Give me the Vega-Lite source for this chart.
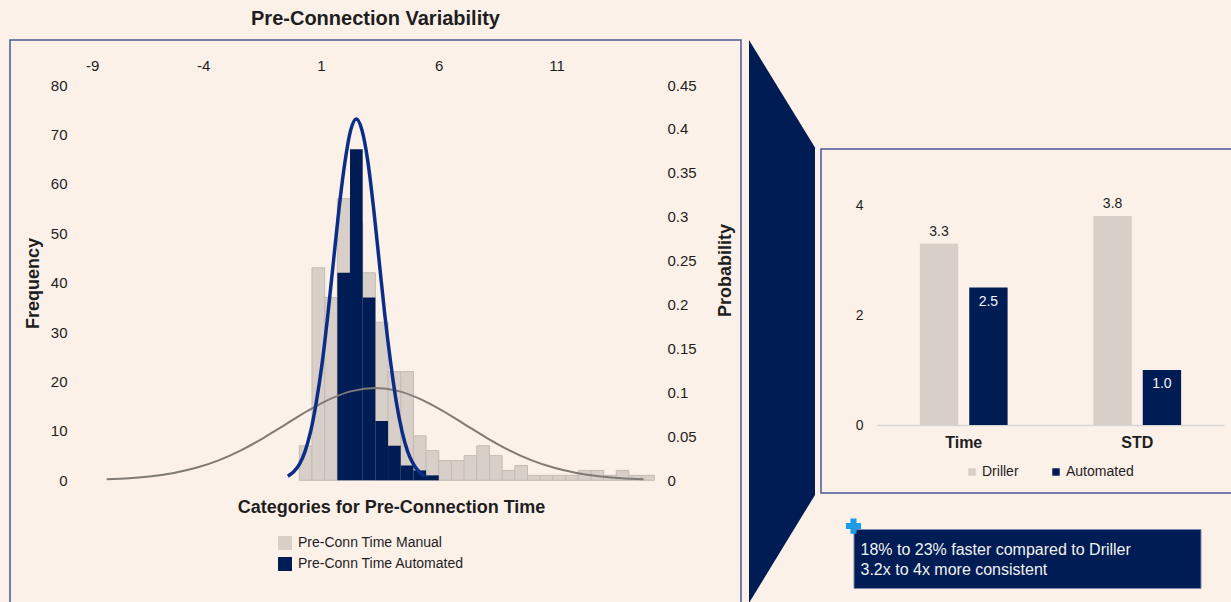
{
  "$schema": "https://vega.github.io/schema/vega-lite/v6.json",
  "background": "#fcf1e9",
  "padding": {"left": 9, "top": 8, "right": 0, "bottom": 0},
  "config": {
    "font": "Liberation Sans",
    "view": {"stroke": null},
    "axis": {"labelColor": "#1e1e1e", "titleColor": "#1e1e1e", "grid": false, "ticks": false, "tickSize": 0, "domain": false},
    "legend": {"labelColor": "#1e1e1e", "labelLimit": 0},
    "title": {"color": "#1e1e1e"}
  },
  "datasets": {
    "hist": [
      {"bin": 0, "series": "Pre-Conn Time Manual", "count": 7},
      {"bin": 0.5, "series": "Pre-Conn Time Manual", "count": 43},
      {"bin": 1, "series": "Pre-Conn Time Manual", "count": 37},
      {"bin": 1.5, "series": "Pre-Conn Time Manual", "count": 57},
      {"bin": 2, "series": "Pre-Conn Time Manual", "count": 52},
      {"bin": 2.5, "series": "Pre-Conn Time Manual", "count": 42},
      {"bin": 3, "series": "Pre-Conn Time Manual", "count": 32},
      {"bin": 3.5, "series": "Pre-Conn Time Manual", "count": 22},
      {"bin": 4, "series": "Pre-Conn Time Manual", "count": 22},
      {"bin": 4.5, "series": "Pre-Conn Time Manual", "count": 9},
      {"bin": 5, "series": "Pre-Conn Time Manual", "count": 6},
      {"bin": 5.5, "series": "Pre-Conn Time Manual", "count": 4},
      {"bin": 6, "series": "Pre-Conn Time Manual", "count": 4},
      {"bin": 6.5, "series": "Pre-Conn Time Manual", "count": 5},
      {"bin": 7, "series": "Pre-Conn Time Manual", "count": 7},
      {"bin": 7.5, "series": "Pre-Conn Time Manual", "count": 5},
      {"bin": 8, "series": "Pre-Conn Time Manual", "count": 2},
      {"bin": 8.5, "series": "Pre-Conn Time Manual", "count": 3},
      {"bin": 9, "series": "Pre-Conn Time Manual", "count": 1},
      {"bin": 9.5, "series": "Pre-Conn Time Manual", "count": 1},
      {"bin": 10, "series": "Pre-Conn Time Manual", "count": 1},
      {"bin": 10.5, "series": "Pre-Conn Time Manual", "count": 1},
      {"bin": 11, "series": "Pre-Conn Time Manual", "count": 2},
      {"bin": 11.5, "series": "Pre-Conn Time Manual", "count": 2},
      {"bin": 12, "series": "Pre-Conn Time Manual", "count": 1},
      {"bin": 12.5, "series": "Pre-Conn Time Manual", "count": 2},
      {"bin": 13, "series": "Pre-Conn Time Manual", "count": 1},
      {"bin": 13.5, "series": "Pre-Conn Time Manual", "count": 1},
      {"bin": 1.5, "series": "Pre-Conn Time Automated", "count": 42},
      {"bin": 2, "series": "Pre-Conn Time Automated", "count": 67},
      {"bin": 2.5, "series": "Pre-Conn Time Automated", "count": 37},
      {"bin": 3, "series": "Pre-Conn Time Automated", "count": 12},
      {"bin": 3.5, "series": "Pre-Conn Time Automated", "count": 7},
      {"bin": 4, "series": "Pre-Conn Time Automated", "count": 3},
      {"bin": 4.5, "series": "Pre-Conn Time Automated", "count": 2},
      {"bin": 5, "series": "Pre-Conn Time Automated", "count": 1}
    ],
    "curves": [
      {"series": "Manual fit", "t": -8.1, "p": 0.0012},
      {"series": "Manual fit", "t": -7.15, "p": 0.0024},
      {"series": "Manual fit", "t": -6.2, "p": 0.0046},
      {"series": "Manual fit", "t": -5.25, "p": 0.0084},
      {"series": "Manual fit", "t": -4.3, "p": 0.0142},
      {"series": "Manual fit", "t": -3.35, "p": 0.0227},
      {"series": "Manual fit", "t": -2.4, "p": 0.0341},
      {"series": "Manual fit", "t": -1.45, "p": 0.0481},
      {"series": "Manual fit", "t": -0.5, "p": 0.0637},
      {"series": "Manual fit", "t": 0.45, "p": 0.0793},
      {"series": "Manual fit", "t": 1.4, "p": 0.0927},
      {"series": "Manual fit", "t": 2.35, "p": 0.1018},
      {"series": "Manual fit", "t": 3.3, "p": 0.105},
      {"series": "Manual fit", "t": 4.25, "p": 0.1018},
      {"series": "Manual fit", "t": 5.2, "p": 0.0927},
      {"series": "Manual fit", "t": 6.15, "p": 0.0793},
      {"series": "Manual fit", "t": 7.1, "p": 0.0637},
      {"series": "Manual fit", "t": 8.05, "p": 0.0481},
      {"series": "Manual fit", "t": 9.0, "p": 0.0341},
      {"series": "Manual fit", "t": 9.95, "p": 0.0227},
      {"series": "Manual fit", "t": 10.9, "p": 0.0142},
      {"series": "Manual fit", "t": 11.85, "p": 0.0084},
      {"series": "Manual fit", "t": 12.8, "p": 0.0046},
      {"series": "Manual fit", "t": 13.75, "p": 0.0024},
      {"series": "Manual fit", "t": 14.7, "p": 0.0012},
      {"series": "Automated fit", "t": -0.41, "p": 0.0046},
      {"series": "Automated fit", "t": -0.17, "p": 0.0094},
      {"series": "Automated fit", "t": 0.08, "p": 0.0181},
      {"series": "Automated fit", "t": 0.32, "p": 0.0327},
      {"series": "Automated fit", "t": 0.56, "p": 0.0557},
      {"series": "Automated fit", "t": 0.8, "p": 0.0889},
      {"series": "Automated fit", "t": 1.05, "p": 0.1335},
      {"series": "Automated fit", "t": 1.29, "p": 0.1883},
      {"series": "Automated fit", "t": 1.53, "p": 0.2495},
      {"series": "Automated fit", "t": 1.77, "p": 0.3104},
      {"series": "Automated fit", "t": 2.02, "p": 0.363},
      {"series": "Automated fit", "t": 2.26, "p": 0.3986},
      {"series": "Automated fit", "t": 2.5, "p": 0.4113},
      {"series": "Automated fit", "t": 2.74, "p": 0.3986},
      {"series": "Automated fit", "t": 2.99, "p": 0.363},
      {"series": "Automated fit", "t": 3.23, "p": 0.3104},
      {"series": "Automated fit", "t": 3.47, "p": 0.2495},
      {"series": "Automated fit", "t": 3.71, "p": 0.1883},
      {"series": "Automated fit", "t": 3.96, "p": 0.1335},
      {"series": "Automated fit", "t": 4.2, "p": 0.0889},
      {"series": "Automated fit", "t": 4.44, "p": 0.0557},
      {"series": "Automated fit", "t": 4.68, "p": 0.0327},
      {"series": "Automated fit", "t": 4.93, "p": 0.0181},
      {"series": "Automated fit", "t": 5.17, "p": 0.0094},
      {"series": "Automated fit", "t": 5.41, "p": 0.0046}
    ],
    "summary": [
      {"metric": "Time", "source": "Driller", "value": 3.3},
      {"metric": "Time", "source": "Automated", "value": 2.5},
      {"metric": "STD", "source": "Driller", "value": 3.8},
      {"metric": "STD", "source": "Automated", "value": 1.0}
    ],
    "notes": [
      {"line": 1, "text": "18% to 23% faster compared to Driller"},
      {"line": 2, "text": "3.2x to 4x more consistent"}
    ],
    "connector": [
      {"side": 0, "upper": 0, "lower": 1},
      {"side": 1, "upper": 0.191, "lower": 0.808}
    ]
  },
  "hconcat": [
    {
      "width": 731,
      "height": 566,
      "view": {"stroke": "#4b5797", "strokeWidth": 1.5},
      "title": {"text": "Pre-Connection Variability", "fontSize": 20, "fontWeight": "bold", "anchor": "middle", "offset": 11},
      "layer": [
        {
          "data": {"name": "hist"},
          "layer": [
            {
              "transform": [{"filter": "datum.series === 'Pre-Conn Time Manual'"}],
              "mark": {"type": "bar", "stroke": "#c4bbb4", "strokeWidth": 1},
              "encoding": {
                "x": {
                  "field": "bin", "type": "ordinal",
                  "scale": {"range": [289.3, 644.3], "paddingInner": 0, "paddingOuter": 0},
                  "axis": {"orient": "bottom", "offset": -108, "labels": false, "title": "Categories for Pre-Connection Time", "titleFontSize": 18, "titleFontWeight": "bold", "titlePadding": 0, "titleX": 381, "titleBaseline": "top"}
                },
                "y": {
                  "field": "count", "type": "quantitative", "stack": null,
                  "scale": {"domain": [0, 80], "range": [440.3, 45], "nice": false},
                  "axis": {"orient": "left", "offset": -59, "values": [0, 10, 20, 30, 40, 50, 60, 70, 80], "labelFontSize": 15, "labelPadding": 2, "title": "Frequency", "titleFontSize": 18, "titleFontWeight": "bold", "titleAngle": -90, "titleX": -36, "titleY": 243, "titleBaseline": "middle", "titleAlign": "center"}
                },
                "color": {
                  "field": "series", "type": "nominal",
                  "scale": {"domain": ["Pre-Conn Time Manual", "Pre-Conn Time Automated"], "range": ["#d8cfc9", "#001c54"]},
                  "legend": {"orient": "none", "legendX": 268, "legendY": 496, "title": null, "symbolType": "square", "symbolSize": 196, "symbolStrokeWidth": 0, "labelFontSize": 14, "labelOffset": 6, "rowPadding": 7}
                }
              }
            },
            {
              "transform": [{"filter": "datum.series === 'Pre-Conn Time Automated'"}],
              "mark": {"type": "bar"},
              "encoding": {
                "x": {"field": "bin", "type": "ordinal"},
                "y": {"field": "count", "type": "quantitative", "stack": null},
                "color": {"field": "series", "type": "nominal"}
              }
            }
          ]
        },
        {
          "data": {"name": "curves"},
          "layer": [
            {
              "transform": [{"filter": "datum.series === 'Manual fit'"}],
              "mark": {"type": "line", "color": "#807a75", "strokeWidth": 2, "interpolate": "monotone"},
              "encoding": {
                "x": {
                  "field": "t", "type": "quantitative",
                  "scale": {"domain": [-9, 15], "range": [75.5, 640.7], "nice": false, "zero": false},
                  "axis": {"orient": "top", "offset": -33.5, "values": [-9, -4, 1, 6, 11], "labelExpr": "'' + datum.value", "labelFontSize": 15, "labelPadding": 0, "title": null}
                },
                "y": {
                  "field": "p", "type": "quantitative",
                  "scale": {"domain": [0, 0.45], "range": [440.3, 45], "nice": false, "zero": false},
                  "axis": {"orient": "right", "offset": -76, "values": [0, 0.05, 0.1, 0.15, 0.2, 0.25, 0.3, 0.35, 0.4, 0.45], "format": ".2~f", "labelFontSize": 15, "labelPadding": 2, "title": "Probability", "titleFontSize": 18, "titleFontWeight": "bold", "titleAngle": -90, "titleX": 60, "titleY": 230, "titleBaseline": "middle", "titleAlign": "center"}
                }
              }
            },
            {
              "transform": [{"filter": "datum.series === 'Automated fit'"}],
              "mark": {"type": "line", "color": "#0a2d87", "strokeWidth": 3.5, "interpolate": "monotone"},
              "encoding": {
                "x": {"field": "t", "type": "quantitative"},
                "y": {"field": "p", "type": "quantitative"}
              }
            }
          ]
        }
      ],
      "resolve": {"scale": {"x": "independent", "y": "independent"}}
    },
    {
      "hconcat": [
        {
          "width": 66,
          "height": 563,
          "data": {"name": "connector"},
          "mark": {"type": "area", "color": "#001c54", "orient": "vertical", "interpolate": "linear"},
          "encoding": {
            "x": {"field": "side", "type": "quantitative", "scale": {"domain": [0, 1], "nice": false, "zero": false}, "axis": null},
            "y": {"field": "upper", "type": "quantitative", "stack": null, "scale": {"domain": [0, 1], "reverse": true, "nice": false, "zero": false}, "axis": null},
            "y2": {"field": "lower"}
          }
        },
        {
          "vconcat": [
            {
              "width": 412,
              "height": 73,
              "data": {"values": [{}]},
              "mark": {"type": "text", "text": ""},
              "encoding": {}
            },
            {
              "width": 412,
              "height": 344,
              "view": {"stroke": "#4b5797", "strokeWidth": 1.5},
              "data": {"name": "summary"},
              "encoding": {
                "x": {
                  "field": "metric", "type": "nominal", "sort": ["Time", "STD"],
                  "scale": {"range": [56, 403], "paddingInner": 0.4945, "paddingOuter": 0.2472},
                  "axis": {"orient": "bottom", "offset": -68, "title": null, "domain": true, "domainColor": "#d6d6d6", "domainWidth": 1.3, "labelAngle": 0, "labelFontSize": 16, "labelFontWeight": "bold", "labelPadding": 9}
                },
                "xOffset": {"field": "source", "type": "nominal", "sort": ["Driller", "Automated"], "scale": {"paddingInner": 0.223}},
                "y": {
                  "field": "value", "type": "quantitative",
                  "scale": {"domain": [0, 4], "range": [276, 56], "nice": false},
                  "axis": {"orient": "left", "offset": -44, "values": [0, 2, 4], "labelFontSize": 14, "labelPadding": 2, "title": null}
                }
              },
              "layer": [
                {
                  "mark": {"type": "bar"},
                  "encoding": {
                    "color": {
                      "field": "source", "type": "nominal",
                      "scale": {"domain": ["Driller", "Automated"], "range": ["#d8cfc9", "#001c54"]},
                      "legend": {"orient": "none", "direction": "horizontal", "legendX": 144, "legendY": 425, "title": null, "symbolType": "square", "symbolSize": 56, "symbolStrokeWidth": 0, "labelFontSize": 14, "labelOffset": 3, "columnPadding": 30}
                    }
                  }
                },
                {
                  "transform": [{"filter": "datum.source === 'Driller'"}],
                  "mark": {"type": "text", "baseline": "bottom", "dy": -5, "fontSize": 14, "color": "#1e1e1e"},
                  "encoding": {"text": {"field": "value", "type": "quantitative", "format": ".1f"}}
                },
                {
                  "transform": [{"filter": "datum.source === 'Automated'"}],
                  "mark": {"type": "text", "baseline": "top", "dy": 7, "fontSize": 14, "color": "#f4f4f4"},
                  "encoding": {"text": {"field": "value", "type": "quantitative", "format": ".1f"}}
                }
              ]
            },
            {
              "width": 347,
              "height": 59,
              "view": {"fill": "#001c54", "stroke": "#7c86ad", "strokeWidth": 1},
              "layer": [
                {
                  "data": {"name": "notes"},
                  "mark": {"type": "text", "align": "left", "baseline": "middle", "dx": 7, "dy": 1.5, "fontSize": 16, "color": "#f2f2f2"},
                  "encoding": {
                    "x": {"datum": 0, "type": "quantitative", "scale": {"domain": [0, 1], "nice": false, "zero": false}, "axis": null},
                    "y": {"field": "line", "type": "quantitative", "scale": {"domain": [0, 3], "reverse": true, "nice": false, "zero": false}, "axis": null},
                    "text": {"field": "text"}
                  }
                },
                {
                  "data": {"values": [{"icon": "plus"}]},
                  "mark": {"type": "point", "shape": "cross", "filled": true, "size": 230, "color": "#1d9be6", "opacity": 1},
                  "encoding": {
                    "x": {"datum": 0, "type": "quantitative"},
                    "y": {"datum": -0.15, "type": "quantitative"}
                  }
                }
              ]
            }
          ],
          "spacing": 36,
          "center": true,
          "bounds": "flush"
        }
      ],
      "spacing": 6,
      "bounds": "flush",
      "resolve": {"scale": {"color": "independent"}, "legend": {"color": "independent"}}
    }
  ],
  "spacing": 8,
  "bounds": "flush",
  "resolve": {"scale": {"color": "independent"}, "legend": {"color": "independent"}}
}
